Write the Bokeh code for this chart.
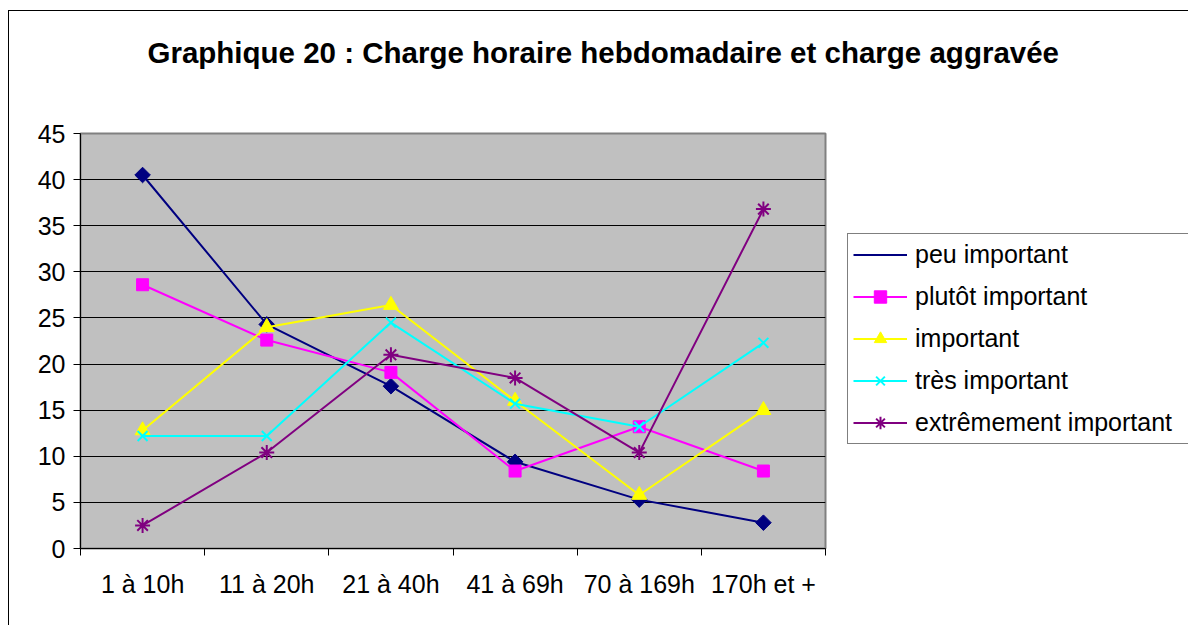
import math
from bokeh.plotting import figure
from bokeh.models import Legend, LegendItem, FixedTicker, Range1d, Title
from bokeh.embed import file_html
from bokeh.resources import INLINE

categories = ["1 à 10h", "11 à 20h", "21 à 40h", "41 à 69h", "70 à 169h", "170h et +"]
peu_important = [40.5, 24.3, 17.6, 9.4, 5.3, 2.8]
plutot_important = [28.6, 22.6, 19.1, 8.4, 13.2, 8.4]
important = [12.8, 24.0, 26.4, 16.0, 5.8, 15.0]
tres_important = [12.2, 12.2, 24.5, 15.7, 13.2, 22.3]
extremement_important = [2.5, 10.4, 21.0, 18.5, 10.4, 36.8]
y_ticks = [0, 5, 10, 15, 20, 25, 30, 35, 40, 45]
title_text = "Graphique 20 : Charge horaire hebdomadaire et charge aggravée"

FONT = "Liberation Sans"
xs = [i + 0.5 for i in range(len(categories))]

p = figure(frame_width=745, frame_height=415, output_backend="svg", toolbar_location=None,
           x_range=Range1d(0, len(categories)), y_range=Range1d(0, 45),
           min_border_left=71, min_border_right=0, min_border_top=122, min_border_bottom=77)
p.styles = {"border-left": "1px solid black", "border-top": "1px solid black",
            "margin-top": "10px", "margin-left": "8px"}
p.title.text = ""

# spacer between frame and title (nearest to frame)
spacer = Title(text=" ", text_font_size="2px", standoff=54)
p.add_layout(spacer, "above")

main_title = Title(text=title_text, text_font=FONT, text_font_size="29.5px",
                   text_font_style="bold", text_color="black", align="left",
                   vertical_align="top", offset=67, standoff=10)
p.add_layout(main_title, "above")

p.background_fill_color = "#C0C0C0"
p.border_fill_color = "white"
p.outline_line_color = "#808080"
p.outline_line_width = 2

p.xgrid.visible = False
p.ygrid.ticker = FixedTicker(ticks=y_ticks)
p.ygrid.grid_line_color = "black"
p.ygrid.grid_line_width = 1

p.yaxis.ticker = FixedTicker(ticks=y_ticks)
p.yaxis.major_label_text_font = FONT
p.yaxis.major_label_text_font_size = "25px"
p.yaxis.major_label_text_color = "black"
p.yaxis.major_tick_out = 7
p.yaxis.major_tick_in = 0
p.yaxis.minor_tick_line_color = None
p.yaxis.axis_line_color = "black"
p.yaxis.major_label_standoff = 8

p.xaxis.ticker = FixedTicker(ticks=xs, minor_ticks=list(range(len(categories) + 1)))
p.xaxis.major_label_overrides = {x: c for x, c in zip(xs, categories)}
p.xaxis.major_label_text_font = FONT
p.xaxis.major_label_text_font_size = "25px"
p.xaxis.major_label_text_color = "black"
p.xaxis.major_tick_out = 0
p.xaxis.major_tick_in = 0
p.xaxis.minor_tick_out = 7
p.xaxis.minor_tick_in = 0
p.xaxis.minor_tick_line_color = "black"
p.xaxis.axis_line_color = "black"
p.xaxis.major_label_standoff = 14

# name, values, colour, plot marker, size, angle, legend marker
series = [
    ("peu important", peu_important, "#000080", "square", 11, math.pi / 4, "diamond"),
    ("plutôt important", plutot_important, "#FF00FF", "square", 12, 0, None),
    ("important", important, "#FFFF00", "triangle", 15, 0, None),
    ("très important", tres_important, "#00FFFF", "x", 14, 0, None),
    ("extrêmement important", extremement_important, "#800080", "asterisk", 15, 0, None),
]

items = []
for name, vals, color, marker, size, ang, leg_marker in series:
    lw = 2 if marker in ("x", "asterisk") else 1
    r1 = p.line(xs, vals, line_color=color, line_width=2)
    r2 = p.scatter(xs, vals, marker=marker, size=size, angle=ang, fill_color=color,
                   line_color=color, line_width=lw)
    if leg_marker is not None:
        # legend-only glyph (no data): the legend does not rotate markers
        r_leg = p.scatter([], [], marker=leg_marker, size=16, fill_color=color,
                          line_color=color, line_width=1)
        items.append(LegendItem(label=name, renderers=[r1, r_leg]))
    else:
        items.append(LegendItem(label=name, renderers=[r1, r2]))

legend = Legend(items=items, location=(22, 104))
legend.label_text_font = FONT
legend.label_text_font_size = "25px"
legend.label_text_color = "black"
legend.glyph_width = 54
legend.glyph_height = 31
legend.label_height = 31
legend.label_width = 270
legend.spacing = 11
legend.padding = 5
legend.margin = 0
legend.label_standoff = 8
legend.border_line_color = "black"
legend.border_line_width = 1
legend.background_fill_color = "white"
legend.background_fill_alpha = 1
p.add_layout(legend, "right")

open("out.html", "w").write(file_html(p, INLINE))
